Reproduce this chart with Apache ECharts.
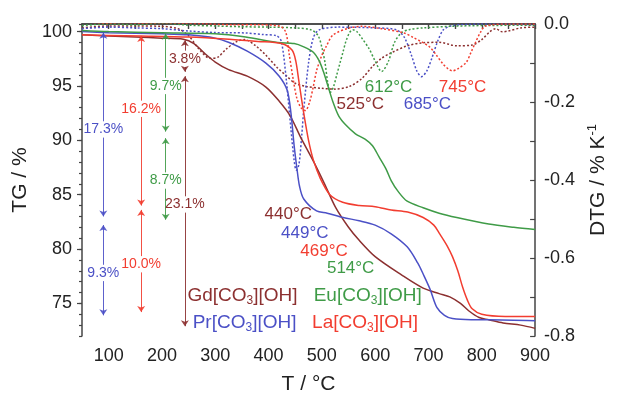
<!DOCTYPE html>
<html>
<head>
<meta charset="utf-8">
<script src="https://cdn.jsdelivr.net/npm/echarts@6/dist/echarts.min.js"></script>
<style>
    html, body { margin: 0; padding: 0; background: #fff; }
    #chart { width: 617px; height: 400px; }
</style>
</head>
<body>
<div id="chart"></div>
<script>
// temperature ticks and axis labels
const tempTicks = [100, 200, 300, 400, 500, 600, 700, 800, 900];
const tgTicks = [75, 80, 85, 90, 95, 100];
const tgMinorTicks = [73, 74, 76, 77, 78, 79, 81, 82, 83, 84, 86, 87, 88, 89, 91, 92, 93, 94, 96, 97, 98, 99];
const dtgTicks = [0, -0.2, -0.4, -0.6, -0.8];

// TG curves, [T / °C, mass / %]
const gdTG = [[50, 99.7], [100, 99.6], [150, 99.5], [200, 99.4], [240, 99.3], [260, 98.9], [280, 98.0],
    [300, 97.2], [325, 96.5], [360, 95.9], [395, 94.9], [420, 93.6], [440, 92.3], [460, 90.3], [485, 88.0],
    [505, 86.0], [526, 83.8], [550, 82.0], [570, 80.8], [600, 79.3], [650, 77.6], [690, 76.4], [720, 75.9],
    [740, 75.6], [760, 75.0], [776, 74.3], [795, 73.7], [813, 73.5], [840, 73.2], [873, 73.0], [900, 72.7]];
const prTG = [[50, 100.0], [100, 99.9], [150, 99.85], [200, 99.8], [250, 99.7], [300, 99.4], [326, 99.0],
    [360, 98.2], [395, 97.1], [420, 95.9], [435, 94.6], [442, 92.5], [448, 89.5], [453, 87.5], [458, 85.8],
    [466, 84.6], [490, 83.5], [510, 83.3], [540, 82.9], [570, 82.6], [600, 82.2], [630, 81.4], [660, 80.2],
    [680, 78.7], [690, 77.7], [703, 76.3], [716, 74.6], [730, 73.9], [745, 73.6], [780, 73.5], [813, 73.5],
    [900, 73.4]];
const euTG = [[50, 100.1], [100, 100.0], [200, 99.9], [300, 99.8], [357, 99.5], [417, 99.0], [448, 98.9],
    [466, 98.6], [484, 98.1], [495, 97.3], [503, 96.3], [512, 94.9], [521, 93.5], [532, 92.2], [545, 91.4],
    [563, 90.6], [581, 90.1], [595, 89.5], [607, 88.5], [620, 87.4], [630, 86.3], [643, 85.3], [660, 84.4],
    [690, 83.8], [720, 83.3], [753, 82.9], [813, 82.3], [860, 82.0], [900, 81.8]];
const laTG = [[50, 99.7], [100, 99.65], [160, 99.6], [250, 99.5], [326, 99.3], [380, 99.1], [424, 98.9],
    [444, 98.3], [451, 97.3], [457, 95.4], [466, 92.5], [475, 90.0], [484, 88.2], [497, 86.5], [515, 85.0],
    [539, 84.3], [570, 84.0], [600, 83.9], [630, 83.6], [661, 83.4], [690, 82.9], [710, 82.2], [721, 81.4],
    [735, 80.3], [745, 79.3], [755, 78.0], [764, 76.5], [773, 75.3], [782, 74.5], [800, 74.0], [844, 73.8],
    [900, 73.8]];

// DTG curves, [T / °C, % K-1]
const gdDTG = [[50, -0.01], [100, -0.005], [150, -0.005], [200, -0.006], [230, -0.012], [250, -0.03],
    [270, -0.065], [290, -0.088], [305, -0.085], [320, -0.065], [340, -0.045], [355, -0.04], [375, -0.055],
    [395, -0.08], [415, -0.11], [435, -0.135], [450, -0.152], [470, -0.16], [500, -0.165], [525, -0.167],
    [552, -0.16], [575, -0.14], [594, -0.11], [612, -0.088], [630, -0.074], [660, -0.056], [690, -0.048],
    [720, -0.047], [753, -0.056], [782, -0.054], [800, -0.04], [815, -0.02], [826, -0.012], [838, -0.02],
    [850, -0.018], [873, -0.01], [900, -0.008]];
const prDTG = [[50, -0.012], [100, -0.008], [150, -0.01], [200, -0.012], [250, -0.018], [300, -0.022],
    [357, -0.023], [390, -0.027], [415, -0.03], [424, -0.045], [433, -0.14], [442, -0.27], [448, -0.35],
    [452, -0.375], [457, -0.36], [462, -0.29], [466, -0.22], [475, -0.1], [484, -0.035], [495, -0.015],
    [530, -0.008], [600, -0.01], [640, -0.015], [655, -0.035], [668, -0.08], [678, -0.12], [687, -0.135],
    [697, -0.12], [707, -0.085], [717, -0.045], [728, -0.015], [745, -0.004], [800, 0], [900, -0.002]];
const euDTG = [[50, -0.004], [100, 0], [150, -0.002], [200, 0.002], [250, -0.003], [300, -0.005],
    [350, -0.007], [400, -0.008], [450, -0.01], [480, -0.015], [493, -0.03], [500, -0.06], [506, -0.1],
    [511, -0.15], [516, -0.175], [522, -0.16], [528, -0.13], [534, -0.1], [540, -0.07], [545, -0.045],
    [552, -0.022], [558, -0.015], [566, -0.02], [577, -0.04], [588, -0.062], [600, -0.095], [612, -0.122],
    [625, -0.095], [636, -0.048], [649, -0.023], [665, -0.014], [690, -0.01], [740, -0.006], [800, -0.004],
    [900, -0.003]];
const laDTG = [[50, 0.008], [70, 0.004], [100, 0.002], [130, 0.004], [160, 0.002], [200, 0.003],
    [240, 0.002], [280, 0.001], [330, -0.002], [380, -0.002], [420, -0.005], [432, -0.02], [439, -0.08],
    [446, -0.14], [453, -0.19], [461, -0.215], [469, -0.222], [477, -0.2], [484, -0.16], [490, -0.12],
    [500, -0.08], [508, -0.058], [521, -0.028], [552, -0.01], [575, -0.006], [612, -0.012], [654, -0.023],
    [672, -0.035], [690, -0.048], [703, -0.06], [715, -0.08], [727, -0.102], [737, -0.115], [745, -0.12],
    [755, -0.115], [771, -0.098], [780, -0.072], [789, -0.045], [798, -0.02], [807, -0.005], [850, 0],
    [900, 0]];

// mass-loss steps: [T, start %, end %] and their labels
const prSteps = [[90, 99.9, 83.0], [90, 82.2, 73.9]];
const prStepText = ['17.3%', '9.3%'];
const laSteps = [[161, 99.6, 84.0], [161, 83.6, 74.2]];
const laStepText = ['16.2%', '10.0%'];
const euSteps = [[207, 99.8, 90.8], [207, 90.2, 82.7]];
const euStepText = ['9.7%', '8.7%'];
const gdSteps = [[243, 99.2, 96.3], [243, 95.9, 72.9]];
const gdStepText = ['3.8%', '23.1%'];

// DTG peak temperatures
const gdPeaks = ['440°C', '525°C'];
const prPeaks = ['449°C', '685°C'];
const laPeaks = ['469°C', '745°C'];
const euPeaks = ['514°C', '612°C'];

const FONT = '"Liberation Sans", Arial, sans-serif';
const colors = { gd: '#8c3030', pr: '#4b50c6', eu: '#3f9b47', la: '#f23d30' };
const AXIS = '#444';

function note(at, text, size) {
    return { at: at, text: text, size: size };
}

// arrow segments split around the label at labelAt
function stepLines(steps, labelAt) {
    let lines = [];
    steps.forEach((s, i) => {
        let half = 0.75;
        lines.push([
            { coord: [s[0], s[1]], symbol: 'arrow' },
            { coord: [s[0], labelAt[i] + half], symbol: 'none' }
        ]);
        lines.push([
            { coord: [s[0], labelAt[i] - half], symbol: 'none' },
            { coord: [s[0], s[2]], symbol: 'arrow' }
        ]);
    });
    return lines;
}

function tgSeries(name, color, data, steps, stepText, labelAt, notes) {
    let allNotes = notes.concat(stepText.map((t, i) => note([steps[i][0], labelAt[i]], t, 14)));
    return {
        name: name,
        type: 'line',
        xAxisIndex: 0,
        yAxisIndex: 0,
        data: data,
        smooth: 0.3,
        showSymbol: false,
        silent: true,
        lineStyle: { color: color, width: 1.5 },
        markLine: {
            silent: true,
            animation: false,
            symbolSize: 6,
            lineStyle: { color: color, width: 1, type: 'solid', opacity: 0.9 },
            label: { show: false },
            data: stepLines(steps, labelAt)
        },
        markPoint: {
            silent: true,
            animation: false,
            symbol: 'circle',
            symbolSize: 0,
            data: allNotes.map(n => ({
                coord: n.at,
                label: {
                    show: true,
                    position: 'inside',
                    formatter: n.text,
                    color: color,
                    fontSize: n.size,
                    fontFamily: FONT,
                    rich: {
                        s: { fontSize: 12, color: color, fontFamily: FONT, padding: [10, 0, 0, 0] }
                    }
                }
            }))
        }
    };
}

function dtgSeries(name, color, data) {
    return {
        name: name,
        type: 'line',
        xAxisIndex: 0,
        yAxisIndex: 1,
        data: data,
        smooth: 0.3,
        showSymbol: false,
        silent: true,
        lineStyle: { color: color, width: 1.5, type: [2, 2] }
    };
}

let chart = echarts.init(document.getElementById('chart'), null, { renderer: 'canvas' });

let series = [
    dtgSeries('Gd DTG', colors.gd, gdDTG),
    dtgSeries('Pr DTG', colors.pr, prDTG),
    dtgSeries('Eu DTG', colors.eu, euDTG),
    dtgSeries('La DTG', colors.la, laDTG),
    tgSeries('Gd[CO3][OH]', colors.gd, gdTG, gdSteps, gdStepText, [97.5, 84.1], [
        note([437, 83.2], gdPeaks[0], 17),
        note([572, 93.3], gdPeaks[1], 17),
        note([351, 75.7], 'Gd[CO{s|3}][OH]', 19)
    ]),
    tgSeries('Pr[CO3][OH]', colors.pr, prTG, prSteps, prStepText, [91.0, 77.8], [
        note([468, 81.45], prPeaks[0], 17),
        note([698, 93.3], prPeaks[1], 17),
        note([355, 73.2], 'Pr[CO{s|3}][OH]', 19)
    ]),
    tgSeries('Eu[CO3][OH]', colors.eu, euTG, euSteps, euStepText, [95.0, 86.3], [
        note([554, 78.2], euPeaks[0], 17),
        note([625, 94.9], euPeaks[1], 17),
        note([586, 75.7], 'Eu[CO{s|3}][OH]', 19)
    ]),
    tgSeries('La[CO3][OH]', colors.la, laTG, laSteps, laStepText, [92.9, 78.6], [
        note([504, 79.8], laPeaks[0], 17),
        note([764, 94.9], laPeaks[1], 17),
        note([581, 73.2], 'La[CO{s|3}][OH]', 19)
    ])
];

let option = {
    backgroundColor: '#fff',
    animation: false,
    textStyle: { fontFamily: FONT },
    grid: { left: 82, right: 69, top: 24, bottom: 60 },
    xAxis: [
        {
            type: 'value',
            position: 'bottom',
            min: 50,
            max: 900,
            interval: 50,
            name: 'T / °C',
            nameLocation: 'middle',
            nameGap: 38,
            nameTextStyle: { fontSize: 21, color: '#222', fontFamily: FONT },
            axisLine: { lineStyle: { color: AXIS, width: 1.5 } },
            axisTick: { inside: false, length: 5, lineStyle: { color: AXIS, width: 1.2 } },
            axisLabel: {
                margin: 11,
                fontSize: 18,
                color: '#222',
                fontFamily: FONT,
                formatter: v => (tempTicks.includes(v) ? String(v) : '')
            },
            splitLine: { show: false }
        },
        {
            type: 'value',
            position: 'top',
            min: 50,
            max: 900,
            interval: 50,
            axisLine: { lineStyle: { color: AXIS, width: 1.5 } },
            axisTick: { inside: true, length: 5, lineStyle: { color: AXIS, width: 1.2 } },
            axisLabel: { show: false },
            splitLine: { show: false }
        }
    ],
    yAxis: [
        {
            type: 'value',
            position: 'left',
            min: 72,
            max: 100.7,
            interval: 1,
            name: 'TG / %',
            nameLocation: 'middle',
            nameRotate: 90,
            nameGap: 50,
            nameTextStyle: { fontSize: 21, color: '#222', fontFamily: FONT },
            axisLine: { show: true, lineStyle: { color: AXIS, width: 1.5 } },
            axisTick: { inside: false, length: 3, lineStyle: { color: AXIS, width: 1.2 } },
            axisLabel: {
                margin: 10,
                fontSize: 18,
                color: '#222',
                fontFamily: FONT,
                formatter: v => (tgTicks.includes(v) ? String(v) : '')
            },
            splitLine: { show: false }
        },
        {
            type: 'value',
            position: 'right',
            min: -0.8,
            max: 0,
            interval: 0.1,
            name: 'DTG / % K{sup|-1}',
            nameLocation: 'middle',
            nameRotate: 90,
            nameGap: 47,
            nameTextStyle: {
                fontSize: 21,
                color: '#222',
                fontFamily: FONT,
                rich: { sup: { fontSize: 13, color: '#222', fontFamily: FONT, padding: [0, 0, 12, 0] } }
            },
            axisLine: { show: true, lineStyle: { color: AXIS, width: 1.5 } },
            axisTick: { inside: true, length: 5, lineStyle: { color: AXIS, width: 1.2 } },
            axisLabel: {
                margin: 9,
                fontSize: 18,
                color: '#222',
                fontFamily: FONT,
                formatter: v => {
                    let r = Math.round(v * 10) / 10;
                    return dtgTicks.includes(r) ? r.toFixed(1) : '';
                }
            },
            splitLine: { show: false }
        },
        {
            // longer ticks at the labelled TG values
            type: 'value',
            position: 'left',
            min: 72,
            max: 100.7,
            axisLine: { show: false },
            axisTick: { show: true, inside: false, length: 5, customValues: tgTicks, lineStyle: { color: AXIS, width: 1.2 } },
            axisLabel: { show: false },
            splitLine: { show: false }
        }
    ],
    series: series
};

chart.setOption(option);
</script>
</body>
</html>
